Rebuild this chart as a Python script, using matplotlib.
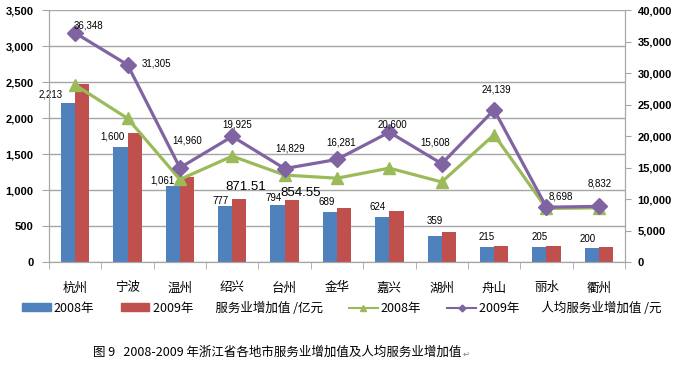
import matplotlib
matplotlib.use("Agg")
import matplotlib.pyplot as plt
import numpy as np
from matplotlib.patches import Patch
from matplotlib.lines import Line2D
from matplotlib.ticker import FuncFormatter

cjk = ['Noto Sans CJK SC', 'DejaVu Sans']
num_font = ['Liberation Sans', 'DejaVu Sans']
plt.rcParams['font.family'] = cjk

cities = ['杭州', '宁波', '温州', '绍兴', '台州', '金华', '嘉兴', '湖州', '舟山', '丽水', '衢州']
value_2008 = [2213, 1600, 1061, 777, 794, 689, 624, 359, 215, 205, 200]
value_2009 = [2472, 1785, 1174, 871.51, 854.55, 754, 711, 411, 224, 224, 215]
per_capita_2008 = [28100, 22800, 13100, 16800, 13800, 13300, 14900, 12700, 20200, 8500, 8600]
per_capita_2009 = [36348, 31305, 14960, 19925, 14829, 16281, 20600, 15608, 24139, 8698, 8832]
caption = '图 9   2008-2009 年浙江省各地市服务业增加值及人均服务业增加值'

blue, red, green, purple = '#4F81BD', '#C0504D', '#9BBB59', '#8064A2'
grid_c = '#A6A6A6'

fig = plt.figure(figsize=(6.77, 3.68), dpi=100)
ax = fig.add_axes([49 / 677, 1 - 262 / 368, 576 / 677, 252 / 368])
ax2 = ax.twinx()

x = np.arange(len(cities))
w = 0.27
ax.bar(x - w / 2, value_2008, w, color=blue, zorder=2)
ax.bar(x + w / 2, value_2009, w, color=red, zorder=2)

ax2.plot(x, per_capita_2008, color=green, lw=2.3, marker='^', ms=9, zorder=3)
ax2.plot(x, per_capita_2009, color=purple, lw=2.3, marker='D', ms=8, zorder=4)

ax.set_xlim(-0.5, len(cities) - 0.5)
ax.set_ylim(0, 3500)
ax.set_yticks(np.arange(0, 3501, 500))
ax2.set_ylim(0, 40000)
ax2.set_yticks(np.arange(0, 40001, 5000))
fmt = FuncFormatter(lambda v, p: f'{v:,.0f}')
ax.yaxis.set_major_formatter(fmt)
ax2.yaxis.set_major_formatter(fmt)
ax.yaxis.grid(True, color=grid_c, lw=1)
ax.set_axisbelow(True)

ax.set_xticks(x)
ax.set_xticklabels(cities, fontsize=9, family=cjk)
ax.set_xticks(np.arange(-0.5, len(cities)), minor=True)
ax.tick_params(axis='x', which='major', length=0, pad=14)
ax.tick_params(axis='x', which='minor', length=5, color=grid_c, direction='out')
ax.tick_params(axis='y', length=5, color=grid_c, pad=6, labelsize=8)
ax2.tick_params(axis='y', length=4, color=grid_c, pad=5, labelsize=8)
for lab in ax.get_yticklabels() + ax2.get_yticklabels():
    lab.set_family(num_font)
    lab.set_fontweight('bold')

for a in (ax, ax2):
    a.spines['top'].set_visible(False)
    for s in ('left', 'right', 'bottom'):
        a.spines[s].set_color(grid_c)

# data labels (offsets in pixels)
off_2008 = [(-17, 8), (-8, 10), (-10, 5), (-5, 5), (-4, 7), (-3, 10), (-5, 10), (0, 15), (0, 10), (0, 10), (-4, 9)]
for i, v in enumerate(value_2008):
    ax.annotate(f'{v:,}', (x[i] - w / 2, v), xytext=off_2008[i], textcoords='offset pixels',
                ha='center', va='center', fontsize=7, family=num_font, zorder=5)
off_2009 = {3: (6, 12), 4: (9, 7)}
for i, (dx, dy) in off_2009.items():
    ax.annotate(f'{value_2009[i]:.2f}', (x[i] + w / 2, value_2009[i]), xytext=(dx, dy),
                textcoords='offset pixels', ha='center', va='center', fontsize=9.5,
                family=num_font, zorder=5)
off_pc = [(13, 8), (29, 1), (7, 27), (5, 12), (5, 20), (4, 17), (3, 8), (-7, 21), (2, 20), (14, 11), (1, 23)]
for i, v in enumerate(per_capita_2009):
    ax2.annotate(f'{v:,}', (x[i], v), xytext=off_pc[i], textcoords='offset pixels',
                 ha='center', va='center', fontsize=7, family=num_font, zorder=6)

sp = ' ' * 8
handles = [Patch(color=blue), Patch(color=red),
           Line2D([], [], color=green, lw=1.5, marker='^', ms=5),
           Line2D([], [], color=purple, lw=1.5, marker='D', ms=3.5)]
labels = ['2008年', '2009年' + sp + '服务业增加值 /亿元', '2008年', '2009年' + sp + '人均服务业增加值 /元']
fig.legend(handles, labels, loc='center', bbox_to_anchor=(0.505, 1 - 308 / 368), ncol=4,
           frameon=False, handlelength=2.3, handleheight=0.55,
           handletextpad=0.25, columnspacing=2.1, prop={'family': cjk, 'size': 9})

cap = fig.text(93 / 677, 1 - 352 / 368, caption, ha='left', va='center', fontsize=9, family=cjk)
fig.canvas.draw()
bb = cap.get_window_extent()
fig.text(bb.x1 / 677 + 0.002, 1 - 354 / 368, '↵', ha='left', va='center', fontsize=6,
         color='#7F7F7F', family=['DejaVu Sans'])

fig.savefig('out.png', dpi=100)
